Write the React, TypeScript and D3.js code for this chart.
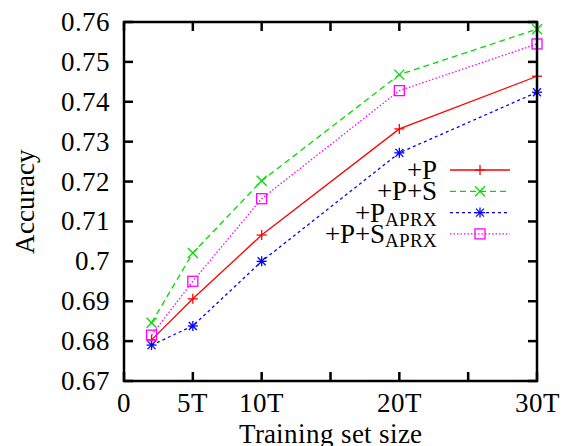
import React from 'react';
import * as d3 from 'd3';

const width = 565,
  height = 446;
const margin = { left: 124, right: 28, top: 22, bottom: 65 };

const trainSizes = [2, 5, 10, 20, 30];
const accP = [0.6803, 0.6906, 0.7066, 0.7332, 0.7464];
const accPS = [0.6846, 0.7021, 0.7202, 0.7468, 0.7582];
const accPAprx = [0.679, 0.6838, 0.7, 0.7272, 0.7424];
const accPSAprx = [0.6815, 0.695, 0.7157, 0.7428, 0.7545];

const xTicks = [0, 5, 10, 15, 20, 25, 30];
const xTickLabels: { [k: number]: string } = { 0: '0', 5: '5T', 10: '10T', 20: '20T', 30: '30T' };
const yTicks = [0.67, 0.68, 0.69, 0.7, 0.71, 0.72, 0.73, 0.74, 0.75, 0.76];

const series = [
  { name: '+P', sub: '', values: accP, color: '#ff0000', dash: undefined, marker: 'plus' },
  { name: '+P+S', sub: '', values: accPS, color: '#00dd00', dash: '6,4', marker: 'cross' },
  { name: '+P', sub: 'APRX', values: accPAprx, color: '#0000ff', dash: '3,3', marker: 'star' },
  { name: '+P+S', sub: 'APRX', values: accPSAprx, color: '#ff00ff', dash: '1.5,2', marker: 'square' },
];

const FS = 27;
const FAMILY = 'ChartSerif, Liberation Serif, Tinos';
const css = "@font-face { font-family: 'ChartSerif'; src: local('Liberation Serif'), local('LiberationSerif'), local('LiberationSerif-Regular'), local('Tinos'); }";

const x = d3.scaleLinear().domain([0, 30]).range([margin.left, width - margin.right]);
const y = d3.scaleLinear().domain([0.67, 0.76]).range([height - margin.bottom, margin.top]);

function Marker({ kind, cx, cy, color }: { kind: string; cx: number; cy: number; color: string }) {
  const s = 5;
  const c = kind === 'star' ? s * 0.8 : s;
  return (
    <g transform={`translate(${cx},${cy})`} stroke={color} strokeWidth={1.3} fill="none">
      {(kind === 'plus' || kind === 'star') && (
        <>
          <line x1={-s} x2={s} y1={0} y2={0} />
          <line x1={0} x2={0} y1={-s} y2={s} />
        </>
      )}
      {(kind === 'cross' || kind === 'star') && (
        <>
          <line x1={-c} x2={c} y1={-c} y2={c} />
          <line x1={-c} x2={c} y1={c} y2={-c} />
        </>
      )}
      {kind === 'square' && <rect x={-s} y={-s} width={2 * s} height={2 * s} />}
    </g>
  );
}

export default function App() {
  const [x0, x1] = x.range();
  const [y0, y1] = y.range();
  const tl = 9;
  const line = d3.line<number>()
    .x((d, i) => x(trainSizes[i]))
    .y((d) => y(d));

  return (
    <div style={{ position: 'absolute', left: 0, top: 0, fontFamily: FAMILY }}>
      <style>{css}</style>
      <svg width={width} height={height} fontFamily={FAMILY} style={{ display: 'block' }}>
        <g stroke="#000" strokeWidth={2.5}>
          {xTicks.map((t) => (
            <g key={'x' + t}>
              <line x1={x(t)} x2={x(t)} y1={y0} y2={y0 - tl} />
              <line x1={x(t)} x2={x(t)} y1={y1} y2={y1 + tl} />
            </g>
          ))}
          {yTicks.map((t) => (
            <g key={'y' + t}>
              <line x1={x0} x2={x0 + tl} y1={y(t)} y2={y(t)} />
              <line x1={x1} x2={x1 - tl} y1={y(t)} y2={y(t)} />
            </g>
          ))}
        </g>

        {series.map((s, si) => (
          <g key={'s' + si}>
            <path d={line(s.values) || ''} fill="none" stroke={s.color} strokeWidth={1.3} strokeDasharray={s.dash} />
            {s.values.map((v, i) => (
              <Marker key={i} kind={s.marker} cx={x(trainSizes[i])} cy={y(v)} color={s.color} />
            ))}
          </g>
        ))}

        <rect x={x0} y={y1} width={x1 - x0} height={y0 - y1} fill="none" stroke="#000" strokeWidth={2.5} />

        {yTicks.map((t) => (
          <text key={'yl' + t} x={x0 - 14} y={y(t) + 9} textAnchor="end" fontSize={FS} fontFamily={FAMILY}>
            {d3.format('')(+t.toFixed(2))}
          </text>
        ))}
        {xTicks.filter((t) => xTickLabels[t] !== undefined).map((t) => (
          <text key={'xl' + t} x={x(t)} y={y0 + 31} textAnchor="middle" fontSize={FS} fontFamily={FAMILY}>
            {xTickLabels[t]}
          </text>
        ))}
        <text x={(x0 + x1) / 2} y={443} textAnchor="middle" fontSize={FS} fontFamily={FAMILY}>Training set size</text>
        <text transform={`translate(34,${(y0 + y1) / 2}) rotate(-90)`} textAnchor="middle" fontSize={FS} fontFamily={FAMILY}>Accuracy</text>

        {series.map((s, i) => {
          const ly = 170 + i * 21.3;
          return (
            <g key={'lg' + i}>
              <text x={437} y={ly + 9} textAnchor="end" fontSize={FS} fontFamily={FAMILY}>
                <tspan>{s.name}</tspan>
                {s.sub && <tspan dy={4} fontSize={19}>{s.sub}</tspan>}
              </text>
              <line x1={450} x2={510} y1={ly} y2={ly} stroke={s.color} strokeWidth={1.3} strokeDasharray={s.dash} />
              <Marker kind={s.marker} cx={480} cy={ly} color={s.color} />
            </g>
          );
        })}
      </svg>
    </div>
  );
}
